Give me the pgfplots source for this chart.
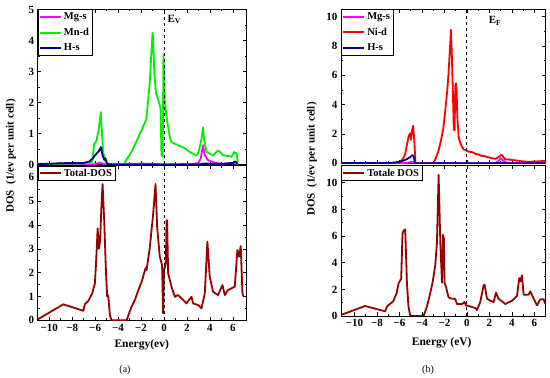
\documentclass[border=0pt]{standalone}
\usepackage{fontspec}
\setmainfont{Liberation Serif}
\usepackage{pgfplots}
\pgfplotsset{compat=1.18}
\definecolor{mgs}{RGB}{255,0,255}
\definecolor{mnd}{RGB}{0,240,0}
\definecolor{hs}{RGB}{0,0,140}
\definecolor{nid}{RGB}{255,0,0}
\definecolor{tot}{RGB}{150,0,0}
\pgfplotsset{
  dospanel/.style={
    scale only axis, anchor=south west,
    axis line style={line width=0.9pt},
    tick style={black, line width=0.7pt},
    major tick length=3.5pt, minor tick length=2pt, tick align=inside,
    /pgf/number format/assume math mode=true,
    tick label style={font=\bfseries\fontsize{11}{12}\selectfont},
    xtick={-10,-8,-6,-4,-2,0,2,4,6},
    minor x tick num=1, minor y tick num=1,
    legend cell align=left,
    legend style={at={(0,1)}, anchor=north west, draw=black, line width=0.5pt,
      font=\bfseries\fontsize{10.5}{10.5}\selectfont, inner xsep=1pt, inner ysep=1pt,
      row sep=3pt},
    legend image code/.code={\draw[#1, line width=2pt] (0pt,0pt) -- (21pt,0pt);},
    every axis plot/.append style={line width=1.8pt, line join=round},
  },
  lowx/.style={xticklabels={−10,−8,−6,−4,−2,0,2,4,6}},
  upx/.style={xticklabels={}},
}
\begin{document}
\begin{tikzpicture}
\useasboundingbox (0,0) rectangle (550pt,378pt);
% ---------------- (a) upper ----------------
\begin{axis}[dospanel, upx, at={(37.7pt,213.5pt)}, width=209pt, height=155pt,
  xmin=-11, xmax=7.2, ymin=0, ymax=5, ytick={0,1,2,3,4,5}]
\addplot[mgs] coordinates {(-11,0) (-6,0.01) (-5.6,0.06) (-5.2,0.01) (-3,0.02) (-2,0.03) (-1,0.02) (0,0) (2.5,0.02) (3.0,0.05) (3.2,0.2) (3.4,0.62) (3.55,0.3) (3.8,0.15) (4.1,0.1) (4.5,0.05) (5,0.02) (6,0.05) (6.2,0.08) (6.4,0)};
\addlegendentry{Mg-s}
\addplot[mnd] coordinates {(-11,0.02) (-8,0.03) (-7,0.03) (-6.5,0.05) (-6.25,0.1) (-6.08,0.67) (-5.9,0.75) (-5.7,1.1) (-5.5,1.69) (-5.4,1.0) (-5.3,0.4) (-5.1,0.1) (-5.0,0.02) (-3.5,0) (-3.2,0.2) (-3.0,0.3) (-2.7,0.5) (-2.4,0.75) (-2.1,1.0) (-1.9,1.15) (-1.73,1.3) (-1.55,1.45) (-1.4,2.0) (-1.25,2.6) (-1.1,3.6) (-1.0,4.25) (-0.95,4.1) (-0.85,3.0) (-0.7,2.3) (-0.55,2.15) (-0.4,1.95) (-0.3,1.8) (-0.22,0.3) (-0.12,0.25) (-0.05,3.55) (0.07,2.07) (0.2,1.6) (0.36,1.2) (0.5,0.9) (0.65,0.72) (0.85,0.68) (1.09,0.65) (1.3,0.6) (1.66,0.56) (1.9,0.5) (2.24,0.4) (2.5,0.35) (2.83,0.29) (3.0,0.4) (3.11,0.56) (3.25,0.8) (3.4,1.2) (3.5,0.8) (3.7,0.4) (4.0,0.35) (4.27,0.29) (4.5,0.38) (4.7,0.45) (4.9,0.4) (5.14,0.3) (5.5,0.28) (5.87,0.25) (6.1,0.4) (6.2,0.35) (6.3,0.38) (6.44,0.09)};
\addlegendentry{Mn-d}
\addplot[hs] coordinates {(-11,0.01) (-9,0.04) (-8,0.05) (-7,0.05) (-6.5,0.1) (-6.2,0.2) (-6.0,0.3) (-5.8,0.38) (-5.65,0.45) (-5.5,0.56) (-5.35,0.3) (-5.2,0.15) (-5.1,0.2) (-4.95,0.02) (-4.5,0) (3,0) (3.5,0.03) (5,0.02) (6.0,0.05) (6.2,0.1) (6.4,0.03)};
\addlegendentry{H-s}
\addplot[black, dashed, line width=1pt, forget plot] coordinates {(0,0) (0,5)};
\node[anchor=west, font=\bfseries\fontsize{11}{12}\selectfont] at (axis cs:0.0,4.68) {E\textsubscript{V}};
\end{axis}
% ---------------- (a) lower ----------------
\begin{axis}[dospanel, lowx, at={(37.7pt,57.7pt)}, width=209pt, height=154.8pt,
  xmin=-11, xmax=7.2, ymin=0, ymax=6.5, ytick={0,1,2,3,4,5,6}]
\addplot[tot] coordinates {(-11,0.04) (-8.77,0.67) (-7.03,0.4) (-6.89,0.68) (-6.6,0.81) (-6.25,1.13) (-6.02,1.55) (-5.93,2.3) (-5.78,3.86) (-5.67,3.0) (-5.56,3.35) (-5.45,4.8) (-5.35,5.72) (-5.21,4.2) (-5.06,2.1) (-4.95,1.0) (-4.86,1.05) (-4.71,0.2) (-4.57,0) (-3.26,0) (-2.83,0.57) (-2.54,0.85) (-2.25,1.25) (-1.96,1.6) (-1.82,1.83) (-1.6,2.2) (-1.52,2.11) (-1.23,3.09) (-0.94,4.49) (-0.74,5.72) (-0.6,3.93) (-0.37,2.67) (-0.17,2.32) (-0.08,0.29) (0.0,2.1) (0.16,2.38) (0.22,4.2) (0.27,4.2) (0.36,1.97) (0.65,1.41) (0.94,0.99) (1.23,1.06) (1.66,0.85) (1.95,0.71) (2.39,0.99) (2.53,0.71) (2.97,0.64) (3.26,0.5) (3.55,1.13) (3.78,3.3) (3.98,1.83) (4.27,1.2) (4.7,1.06) (5.09,1.48) (5.29,1.06) (5.58,1.27) (6.16,1.41) (6.39,2.95) (6.53,2.67) (6.68,3.12) (6.83,1.13) (6.94,0.99)};
\addlegendentry{Total-DOS}
\addplot[black, dashed, line width=1pt, forget plot] coordinates {(0,0) (0,6.5)};
\end{axis}
% ---------------- (b) upper ----------------
\begin{axis}[dospanel, upx, at={(341pt,214.7pt)}, width=204.7pt, height=153.9pt,
  xmin=-11.2, xmax=7, ymin=0, ymax=10.5, ytick={0,2,4,6,8,10}]
\addplot[mgs] coordinates {(-11.2,0) (-5.5,0.02) (-4.8,0.1) (-4.6,0) (-1.5,0.02) (0,0) (2.5,0.02) (2.8,0.15) (3.0,0.34) (3.2,0.2) (3.5,0.05) (4,0.02) (7,0.02)};
\addlegendentry{Mg-s}
\addplot[nid] coordinates {(-11.2,0.01) (-6,0.02) (-5.67,0.34) (-5.5,0.6) (-5.37,1.13) (-5.2,1.8) (-5.07,2.05) (-4.98,1.6) (-4.87,2.3) (-4.78,2.55) (-4.69,1.6) (-4.57,0) (-3.0,0) (-2.8,0.3) (-2.55,0.8) (-2.3,1.6) (-2.1,2.4) (-1.93,3.6) (-1.75,5.0) (-1.64,6.1) (-1.5,8.0) (-1.42,9.1) (-1.35,7.5) (-1.25,4.8) (-1.17,2.3) (-1.1,2.25) (-1.04,5.3) (-0.98,5.45) (-0.92,5.0) (-0.86,3.2) (-0.74,1.8) (-0.6,1.4) (-0.45,1.13) (-0.3,0.95) (-0.15,0.9) (0.15,0.8) (0.5,0.75) (0.74,0.65) (1.0,0.6) (1.33,0.5) (1.6,0.48) (1.93,0.4) (2.2,0.35) (2.52,0.3) (2.76,0.4) (3.0,0.55) (3.11,0.57) (3.25,0.4) (3.41,0.27) (3.8,0.25) (4.3,0.2) (4.8,0.15) (5.48,0.1) (6.0,0.12) (6.67,0.15) (7.0,0.15)};
\addlegendentry{Ni-d}
\addplot[hs] coordinates {(-11.2,0.01) (-7,0.02) (-6.5,0.05) (-6,0.1) (-5.6,0.2) (-5.3,0.3) (-5.0,0.45) (-4.87,0.55) (-4.75,0.5) (-4.6,0) (-4,0) (2.5,0) (3.0,0.06) (3.5,0) (7,0)};
\addlegendentry{H-s}
\addplot[black, dashed, line width=1pt, forget plot] coordinates {(0,0) (0,10.5)};
\node[font=\bfseries\fontsize{11}{12}\selectfont] at (axis cs:2.5,9.7) {E\textsubscript{F}};
\end{axis}
% ---------------- (b) lower ----------------
\begin{axis}[dospanel, lowx, at={(341pt,62pt)}, width=204.7pt, height=150.5pt,
  xmin=-11.2, xmax=7, ymin=0, ymax=11.3, ytick={0,2,4,6,8,10}]
\addplot[tot] coordinates {(-11.2,0.08) (-9.05,0.75) (-7.27,0.35) (-7.12,0.7) (-7.0,0.8) (-6.56,1.1) (-6.26,1.7) (-6.08,2.46) (-5.85,2.8) (-5.73,6.2) (-5.64,6.4) (-5.49,6.5) (-5.34,2.5) (-5.2,0.7) (-5.04,0) (-3.86,0) (-3.56,0.7) (-3.27,1.7) (-3.06,2.5) (-2.82,3.8) (-2.67,5.5) (-2.52,10.6) (-2.37,5.5) (-2.22,2.5) (-2.13,6.1) (-2.05,5.8) (-1.99,2.5) (-1.87,2.2) (-1.64,1.4) (-1.33,1.3) (-1.04,1.28) (-0.89,0.9) (-0.45,0.9) (-0.21,1.05) (-0.09,0.8) (0.15,0.75) (0.74,0.6) (0.89,0.45) (1.18,1.05) (1.48,2.3) (1.57,2.35) (1.78,1.3) (2.07,1.15) (2.37,1.05) (2.58,1.75) (2.81,1.3) (3.41,0.9) (4.0,1.15) (4.45,1.5) (4.65,2.85) (4.75,2.6) (4.89,3.05) (5.04,1.6) (5.48,1.6) (5.63,1.85) (5.93,1.3) (6.23,0.8) (6.52,1.25) (6.82,1.25) (6.97,0.9)};
\addlegendentry{Totale DOS}
\addplot[black, dashed, line width=1pt, forget plot] coordinates {(0,0) (0,11.3)};
\end{axis}
% ---------------- labels ----------------
\node[rotate=90, font=\bfseries\fontsize{11}{12}\selectfont] at (11pt,222pt) {DOS\ \ (1/ev per unit cell)};
\node[rotate=90, font=\bfseries\fontsize{11}{12}\selectfont] at (312pt,219pt) {DOS\ \ (1/ev per unit cell)};
\node[font=\bfseries\fontsize{11.5}{12}\selectfont] at (141.7pt,33pt) {Energy(ev)};
\node[font=\bfseries\fontsize{11.5}{12}\selectfont] at (441.7pt,35pt) {Energy (eV)};
\node[font=\fontsize{10}{11}\selectfont] at (125pt,8pt) {(a)};
\node[font=\fontsize{10}{11}\selectfont] at (428pt,8pt) {(b)};
\end{tikzpicture}
\end{document}
